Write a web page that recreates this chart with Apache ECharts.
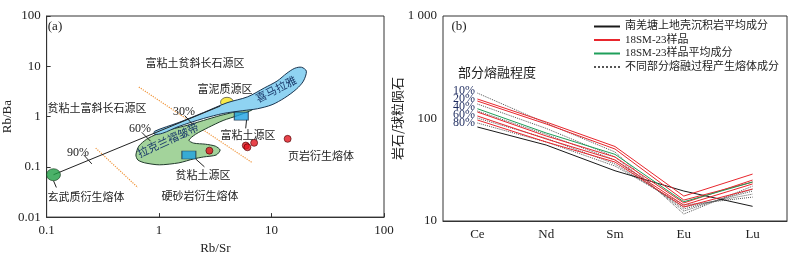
<!DOCTYPE html>
<html><head><meta charset="utf-8">
<script src="https://cdn.jsdelivr.net/npm/echarts@6/dist/echarts.min.js"></script>
<style>html,body{margin:0;padding:0;background:#fff}#c{width:798px;height:260px}</style>
</head><body><div id="c"></div>
<script>
// ---------- Panel (a): Rb/Sr vs Rb/Ba ----------
const himalayaRegion = [[0.91,0.508],[1.50,0.763],[2.48,1.20],[4.02,1.88],[6.13,2.47],[8.61,3.70],[11.2,5.08],[13.7,7.29],[16.1,9.14],[18.5,9.55],[20.4,7.98],[19.2,5.08],[16.7,3.54],[13.1,2.36],[10.1,1.72],[7.49,1.43],[5.54,1.31],[3.71,1.15],[2.48,0.914],[1.50,0.637],[1.07,0.464],[0.91,0.444]];
const lachlanRegion = [[0.622,0.172],[0.660,0.258],[0.775,0.354],[0.947,0.444],[1.28,0.556],[1.77,0.667],[2.48,0.835],[3.49,1.046],[4.82,1.25],[6.51,1.50],[6.77,1.37],[5.01,1.046],[3.71,0.835],[2.75,0.609],[2.11,0.444],[1.84,0.338],[2.03,0.296],[2.58,0.282],[3.16,0.258],[3.49,0.216],[3.22,0.172],[2.48,0.157],[2.03,0.144],[1.50,0.120],[1.006,0.1095],[0.745,0.120],[0.647,0.137]];
const peliteSource = [[4.02,1.92]];
const clayRichSource = [[5.38,1.02]];
const clayPoorSource = [[1.84,0.172]];
const basaltMelt = [[0.115,0.0697]];
const shaleMelts = [[2.80,0.21],[5.9,0.265],[6.1,0.245],[7.0,0.30],[13.9,0.36]];
const mixingLine = [[0.115,0.0697],[3.5,1.62]];
const tick90 = [[0.214,0.172],[0.252,0.1146]];
const tick60 = [[0.701,0.486],[0.84,0.323]];
const tick30 = [[1.69,1.046],[1.99,0.697]];
const boundary1 = [[0.66,3.87],[6.77,0.120]];
const boundary2 = [[0.273,0.236],[0.647,0.0388]];
const leaderRich = [[6.0,0.874],[5.89,0.582]];
const leaderPoor = [[2.11,0.144],[2.53,0.1]];
const leaderBasalt = [[0.115,0.0531],[0.122,0.0388]];

// ---------- Panel (b): chondrite-normalised REE ----------
const elements = ['Ce','Nd','Sm','Eu','Lu'];
const sedimentAvg = [82.6,55.1,30.9,19.6,13.9];
const sampleA = [155,92.4,53.3,17.5,28.7];
const sampleB = [148,88.4,50.4,16.0,24.0];
const sampleC = [115.7,67.5,42.1,15.0,25.1];
const sampleD = [105.8,63.1,39.4,14.3,23.0];
const sampleE = [96.7,59.0,37.6,13.7,20.5];
const sampleAvg = [124.6,72.2,44.7,15.4,24.0];
const melt10 = [177,90,47.1,11.7,21.9];
const melt20 = [138.5,80,42.1,12.5,20.5];
const melt40 = [118.4,70,39.4,13.1,19.6];
const melt60 = [101,64,36.0,13.7,18.3];
const melt80 = [90.4,59.0,34.4,14.3,17.1];
const meltLabels = ['10%','20%','40%','60%','80%'];

const FONT = '"Liberation Serif","Noto Sans CJK SC",serif';
const CJK = '"Noto Sans CJK SC","Liberation Serif",sans-serif';

function polygon(verts, fill, stroke, z, smooth) {
  return {
    type:'custom', xAxisIndex:0, yAxisIndex:0, z:z, silent:true,
    data: verts,
    renderItem: function(params, api) {
      if (params.dataIndex !== 0) return null;
      const pts = verts.map(v => api.coord(v));
      return {type:'polygon', shape:{points:pts, smooth:smooth}, style:{fill:fill, stroke:stroke, lineWidth:1}};
    }
  };
}
function segA(data, color, type, z, width) {
  return {type:'line', xAxisIndex:0, yAxisIndex:0, data:data, symbol:'none', z:z, silent:true,
    lineStyle:{color:color, type:type||'solid', width:width||1}};
}
function lineB(name, data, color, type, z) {
  return {type:'line', name:name, xAxisIndex:1, yAxisIndex:1, data:data, symbol:'none', z:z,
    lineStyle:{color:color, type:type, width:1}, itemStyle:{color:color}};
}
function txt(t, x, y, opt) {
  opt = opt || {};
  return {type:'text', x:x, y:y, rotation:(opt.rot||0)*Math.PI/180, z:100,
    style:{text:t, font:(opt.size||11)+'px '+(opt.family||CJK), fill:opt.color||'#222', align:opt.align||'center', verticalAlign:'middle'}};
}

const chart = echarts.init(document.getElementById('c'));
const NAME_SED = '南羌塘上地壳沉积岩平均成分', NAME_S = '18SM-23样品', NAME_AVG = '18SM-23样品平均成分', NAME_MELT = '不同部分熔融过程产生熔体成分';
const option = {
  animation:false,
  backgroundColor:'#fff',
  grid:[
    {left:40, top:16, width:344, height:204, show:true, borderColor:'#333', borderWidth:1},
    {left:443, top:16, width:344, height:205, show:true, borderColor:'#333', borderWidth:1}
  ],
  xAxis:[
    {type:'log', logBase:10, gridIndex:0, min:0.1, max:100, name:'Rb/Sr', nameLocation:'middle', nameGap:22,
     nameTextStyle:{fontFamily:FONT, fontSize:13, color:'#222'},
     axisLine:{lineStyle:{color:'#333'}}, axisTick:{inside:true, length:4, lineStyle:{color:'#333'}},
     splitLine:{show:false}, minorTick:{show:false},
     axisLabel:{fontFamily:FONT, fontSize:13, color:'#222', margin:7}},
    {type:'category', gridIndex:1, data:elements, boundaryGap:true,
     axisLine:{lineStyle:{color:'#333'}}, axisTick:{inside:true, alignWithLabel:true, length:4, lineStyle:{color:'#333'}},
     axisLabel:{fontFamily:FONT, fontSize:13, color:'#222', margin:7}}
  ],
  yAxis:[
    {type:'log', logBase:10, gridIndex:0, min:0.01, max:100, name:'Rb/Ba', nameLocation:'middle', nameGap:27, nameRotate:90,
     nameTextStyle:{fontFamily:FONT, fontSize:13, color:'#222'},
     axisLine:{lineStyle:{color:'#333'}}, axisTick:{inside:true, length:4, lineStyle:{color:'#333'}},
     splitLine:{show:false},
     axisLabel:{fontFamily:FONT, fontSize:13, color:'#222', margin:6}},
    {type:'log', logBase:10, gridIndex:1, min:10, max:1000, name:'岩石/球粒陨石', nameLocation:'middle', nameGap:24, nameRotate:90,
     nameTextStyle:{fontFamily:CJK, fontSize:13, color:'#222'},
     axisLine:{lineStyle:{color:'#333'}}, axisTick:{inside:false, length:4, lineStyle:{color:'#333'}},
     splitLine:{show:false},
     axisLabel:{fontFamily:FONT, fontSize:13, color:'#222', margin:6, formatter:v => (v>=1000? '1 000' : String(v))}}
  ],
  legend:{left:588, top:16, orient:'vertical', itemWidth:26, itemHeight:10, itemGap:2.5,
    itemStyle:{opacity:0},
    textStyle:{fontFamily:FONT, fontSize:11, color:'#222'},
    data:[NAME_SED, NAME_S, NAME_AVG, NAME_MELT]},
  series:[
    segA(boundary1, '#f0953a', 'dotted', 1, 1.2),
    segA(boundary2, '#f0953a', 'dotted', 1, 1.2),
    polygon(lachlanRegion, '#a3d39b', '#1f3a2a', 2, 0.25),
    {type:'scatter', xAxisIndex:0, yAxisIndex:0, data:peliteSource, symbol:'circle', symbolSize:[13,10], z:3, silent:true,
     itemStyle:{color:'#f6e41c', borderColor:'#333', borderWidth:0.8}},
    polygon(himalayaRegion, '#8fd3f2', '#1a3550', 4, 0.3),
    segA(mixingLine, '#222', 'solid', 5),
    segA(tick90, '#222', 'solid', 5),
    segA(tick60, '#222', 'solid', 5),
    segA(tick30, '#222', 'solid', 5),
    segA(leaderRich, '#222', 'solid', 5),
    segA(leaderPoor, '#222', 'solid', 5),
    segA(leaderBasalt, '#222', 'solid', 5),
    {type:'scatter', xAxisIndex:0, yAxisIndex:0, data:clayRichSource.concat(clayPoorSource), symbol:'rect', symbolSize:[14,8], z:6, silent:true,
     itemStyle:{color:'#1ba1e2', borderColor:'#1a2a40', borderWidth:0.8}},
    {type:'scatter', xAxisIndex:0, yAxisIndex:0, data:basaltMelt, symbol:'circle', symbolSize:[14,12], z:6, silent:true,
     itemStyle:{color:'#1e9e44', borderColor:'#1a3a20', borderWidth:0.8}},
    {type:'scatter', xAxisIndex:0, yAxisIndex:0, data:shaleMelts, symbol:'circle', symbolSize:7, z:6, silent:true,
     itemStyle:{color:'#e2141e', borderColor:'#4a0000', borderWidth:0.8}},
    // panel b
    lineB(NAME_MELT, melt10, '#555', 'dotted', 2),
    lineB(NAME_MELT, melt20, '#555', 'dotted', 2),
    lineB(NAME_MELT, melt40, '#555', 'dotted', 2),
    lineB(NAME_MELT, melt60, '#555', 'dotted', 2),
    lineB(NAME_MELT, melt80, '#555', 'dotted', 2),
    lineB(NAME_SED, sedimentAvg, '#1a1a1a', 'solid', 3),
    lineB(NAME_S, sampleA, '#e8262d', 'solid', 3),
    lineB(NAME_S, sampleB, '#e8262d', 'solid', 3),
    lineB(NAME_S, sampleC, '#e8262d', 'solid', 3),
    lineB(NAME_S, sampleD, '#e8262d', 'solid', 3),
    lineB(NAME_S, sampleE, '#e8262d', 'solid', 3),
    lineB(NAME_AVG, sampleAvg, '#1f9f5a', 'solid', 4)
  ],
  graphic:[
    txt('(a)', 55, 27, {size:13, family:FONT}),
    txt('富粘土贫斜长石源区', 195, 63),
    txt('富泥质源区', 225, 89),
    txt('贫粘土富斜长石源区', 97, 108),
    txt('30%', 184, 112, {size:12, family:FONT}),
    txt('60%', 140, 129, {size:12, family:FONT}),
    txt('90%', 78, 153, {size:12, family:FONT}),
    txt('富粘土源区', 248, 135),
    txt('页岩衍生熔体', 321, 156),
    txt('贫粘土源区', 203, 175),
    txt('硬砂岩衍生熔体', 200, 196),
    txt('玄武质衍生熔体', 86, 197),
    txt('喜马拉雅', 276, 89, {rot:27, color:'#1b3a6b'}),
    txt('拉克兰褶皱带', 168, 140, {rot:25, color:'#1b3a6b'}),
    txt('(b)', 459, 27, {size:13, family:FONT}),
    txt('部分熔融程度', 497, 72, {size:13}),
    txt(meltLabels[0], 475, 91, {size:12, family:FONT, align:'right', color:'#1c2a5e'}),
    txt(meltLabels[1], 475, 99, {size:12, family:FONT, align:'right', color:'#1c2a5e'}),
    txt(meltLabels[2], 475, 107, {size:12, family:FONT, align:'right', color:'#1c2a5e'}),
    txt(meltLabels[3], 475, 115, {size:12, family:FONT, align:'right', color:'#1c2a5e'}),
    txt(meltLabels[4], 475, 123, {size:12, family:FONT, align:'right', color:'#1c2a5e'})
  ]
};
chart.setOption(option);
</script></body></html>
